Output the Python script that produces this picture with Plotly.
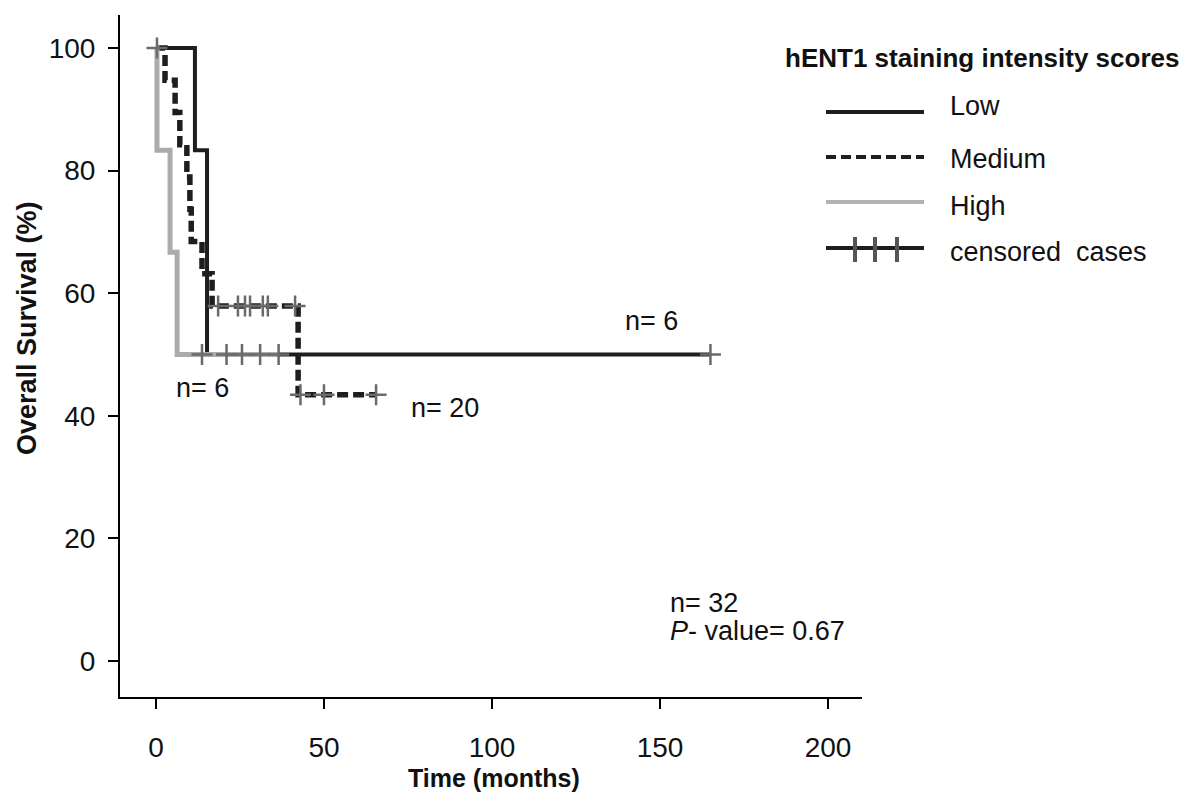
import plotly.graph_objects as go

# Follow-up times (months) for each hENT1 staining group
low_events = [11.6, 15.2, 15.2]
low_censored = [25.6, 31.0, 165.0]
medium_events = [2.7, 5.7, 7.1, 9.2, 10.1, 10.5, 13.7, 16.7, 42.3]
medium_censored = [0.3, 18.5, 24.4, 26.5, 28.0, 31.8, 33.3, 41.4, 43.0, 50.0, 65.5]
high_events = [0.3, 4.2, 6.3]
high_censored = [13.7, 21.0, 36.5]

group_names = ["Low", "Medium", "High", "censored  cases"]
x_ticks = [0, 50, 100, 150, 200]
y_ticks = [0, 20, 40, 60, 80, 100]

BLACK = "#1e1e1e"
GRAY = "#ababab"
MARK = "#6a6a6a"
FONT = "Liberation Sans, Arial, sans-serif"


def kaplan_meier(events, censored):
    """Return step coordinates and censor-mark positions in percent."""
    times = sorted(set(events) | set(censored))
    at_risk = len(events) + len(censored)
    s = 100.0
    xs, ys, cx, cy = [0.0], [100.0], [], []
    for t in times:
        d = events.count(t)
        c = censored.count(t)
        if d:
            s *= 1 - d / at_risk
        xs.append(t)
        ys.append(s)
        cx += [t] * c
        cy += [s] * c
        at_risk -= d + c
    return xs, ys, cx, cy


fig = go.Figure()
curves = [
    (low_events, low_censored, dict(color=BLACK, width=4)),
    (medium_events, medium_censored, dict(color=BLACK, width=5.5, dash="11px,5px")),
    (high_events, high_censored, dict(color=GRAY, width=5)),
]
marks_x, marks_y = [], []
for ev, ce, line in curves:
    xs, ys, cx, cy = kaplan_meier(ev, ce)
    fig.add_trace(go.Scatter(x=xs, y=ys, mode="lines", line=dict(shape="hv", **line),
                             hoverinfo="skip"))
    marks_x += cx
    marks_y += cy

fig.add_trace(go.Scatter(x=marks_x, y=marks_y, mode="markers",
                         marker=dict(symbol="cross-thin", size=15,
                                     line=dict(color=MARK, width=2.5)),
                         hoverinfo="skip"))

W, H = 1192, 792
L, R, T, B = 120, 862, 15, 697


def px(x):
    return (x - L) / (R - L)


def py(y):
    return (B - y) / (B - T)


axis_common = dict(showgrid=False, zeroline=False, showline=True, linewidth=2,
                   linecolor="black", ticks="outside", ticklen=10, tickwidth=2,
                   tickcolor="black", tickfont=dict(size=28, family=FONT, color="#111111"))

fig.update_layout(
    width=W, height=H,
    margin=dict(l=L, r=W - R, t=T, b=H - B),
    paper_bgcolor="white", plot_bgcolor="white",
    showlegend=False,
    font=dict(family=FONT, color="#111111"),
    xaxis=dict(range=[-10.7, 210.1], tickvals=x_ticks, ticklabelstandoff=14, **axis_common),
    yaxis=dict(range=[-5.87, 105.38], tickvals=y_ticks, ticklabelstandoff=7, **axis_common),
)


def note(text, x, y, size, xanchor="center", paper=False, **kw):
    d = dict(text=text, x=x, y=y, xanchor=xanchor, yanchor="middle", showarrow=False,
             font=dict(size=size), **kw)
    if paper:
        d.update(xref="paper", yref="paper")
    return d


ann = [
    # axis titles
    note("<b>Time (months)</b>", px(494), py(778), 25, paper=True),
    note("<b>Overall Survival (%)</b>", px(27), py(328), 27, paper=True, textangle=-90),
    # group sizes and test result
    note("n= 6", 13.7, 44.5, 27),
    note("n= 20", 86, 41.3, 27),
    note("n= 6", 147.5, 55.4, 27),
    note("n= 32", 152.4, 9.4, 27, xanchor="left"),
    note("<i>P</i>- value= 0.67", 152.4, 4.9, 27, xanchor="left"),
    # legend block
    note("<b>hENT1 staining intensity scores</b>", px(783), py(58), 26,
         xanchor="left", paper=True),
]
label_rows = [106, 159, 206, 252]
for name, yl in zip(group_names, label_rows):
    ann.append(note(name, px(948), py(yl), 27, xanchor="left", paper=True))

shapes = []
legend_rows = [112, 157, 202, 248]
legend_styles = [
    dict(color=BLACK, width=4),
    dict(color=BLACK, width=4, dash="10px,5px"),
    dict(color="#b3b3b3", width=4),
    dict(color=BLACK, width=4),
]
for yl, st in zip(legend_rows, legend_styles):
    shapes.append(dict(type="line", xref="paper", yref="paper",
                       x0=px(826), x1=px(924), y0=py(yl), y1=py(yl), line=st))
for xt in [855, 875, 897]:
    shapes.append(dict(type="line", xref="paper", yref="paper",
                       x0=px(xt), x1=px(xt), y0=py(237), y1=py(262),
                       line=dict(color="#555555", width=4)))

fig.update_layout(annotations=ann, shapes=shapes)
fig.write_html("out.html")
